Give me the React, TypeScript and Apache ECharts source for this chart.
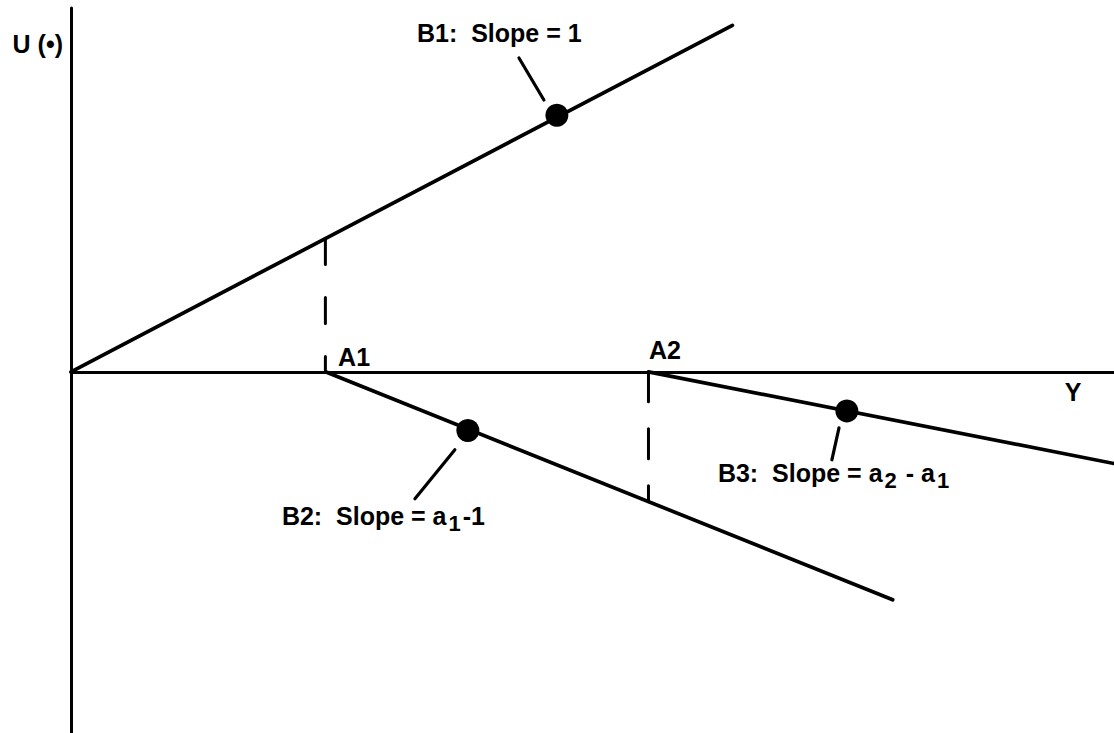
import React, { useEffect, useRef } from "react";
import * as echarts from "echarts";

// Schematic: utility U(·) against income Y, piecewise linear with kinks at A1, A2.
const X_RANGE = [0, 41];
const Y_RANGE = [-27.1, 27.3];

const A1 = 10;
const A2 = 22.7;

const lineB1: [number, number][] = [[0, 0], [26, 26]];
const lineB2: [number, number][] = [[A1, 0], [32.3, -17.1]];
const lineB3: [number, number][] = [[A2, 0], [41, -6.88]];

const dashA1: [number, number][] = [[A1, 10], [A1, 0]];
const dashA2: [number, number][] = [[A2, 0], [A2, -9.74]];

const dots: [number, number][] = [[19.1, 19.25], [15.6, -4.4], [30.5, -2.93]];

const leaderB1: [number, number][] = [[17.61, 23.55], [18.59, 20.4]];
const leaderB2: [number, number][] = [[15.09, -5.85], [13.52, -9.53]];
const leaderB3: [number, number][] = [[30.19, -4.2], [29.91, -6.6]];

const labelTexts = [
  "{t|B1:  Slope = 1}",
  "{t|A1}",
  "{t|A2}",
  "{t|B2:  Slope = a}{s|1}{t|-1}",
  "{t|B3:  Slope = a}{s|2}{t| - a}{s|1}",
];
const labelPos: [number, number][] = [
  [13.6, 25.4],
  [10.5, 1.13],
  [22.72, 1.65],
  [8.29, -10.8],
  [25.43, -7.58],
];

const Y_AXIS_NAME = "U (•)";
const X_AXIS_NAME = "Y";

const FONT = '"Liberation Sans", Arial, Helvetica, sans-serif';
const INK = "#000";

export default function App() {
  const ref = useRef<HTMLDivElement>(null);
  useEffect(() => {
    if (!ref.current) return;
    const chart = echarts.init(ref.current, null, { renderer: "svg" });
    const solid = (data: [number, number][], width = 3.7) => ({
      type: "line",
      data,
      symbol: "none",
      silent: true,
      clip: false,
      lineStyle: { color: INK, width, cap: "round", opacity: 1 },
    });
    const dashed = (data: [number, number][], dash: number[]) => ({
      type: "line",
      data,
      symbol: "none",
      silent: true,
      clip: false,
      lineStyle: { color: INK, width: 3, type: dash, cap: "round", opacity: 1 },
    });
    chart.setOption({
      animation: false,
      backgroundColor: "#fff",
      textStyle: { fontFamily: FONT },
      grid: { left: 71, right: 0, top: 8, bottom: 0 },
      xAxis: {
        type: "value",
        min: X_RANGE[0],
        max: X_RANGE[1],
        axisLine: { show: true, onZero: true, lineStyle: { color: INK, width: 3 } },
        axisTick: { show: false },
        axisLabel: { show: false },
        splitLine: { show: false },
        name: X_AXIS_NAME,
        nameLocation: "end",
        nameGap: -41,
        nameTextStyle: {
          color: INK,
          fontSize: 25,
          fontWeight: "bold",
          fontFamily: FONT,
          align: "center",
          verticalAlign: "top",
          padding: [8, 0, 0, 0],
        },
      },
      yAxis: {
        type: "value",
        min: Y_RANGE[0],
        max: Y_RANGE[1],
        axisLine: { show: true, onZero: false, lineStyle: { color: INK, width: 3 } },
        axisTick: { show: false },
        axisLabel: { show: false },
        splitLine: { show: false },
        name: Y_AXIS_NAME,
        nameLocation: "end",
        nameGap: -36,
        nameTextStyle: {
          color: INK,
          fontSize: 25,
          fontWeight: "bold",
          fontFamily: FONT,
          align: "right",
          verticalAlign: "middle",
          padding: [0, 8, 0, 0],
        },
      },
      series: [
        solid(lineB1),
        solid(lineB2),
        solid(lineB3),
        dashed(dashA1, [26, 33]),
        dashed(dashA2, [30, 27]),
        solid(leaderB1, 3.2),
        solid(leaderB2, 3.2),
        solid(leaderB3, 3.2),
        {
          type: "scatter",
          data: dots,
          symbol: "circle",
          symbolSize: 23,
          silent: true,
          itemStyle: { color: INK, opacity: 1 },
        },
        {
          type: "scatter",
          data: labelPos.map((p, i) => ({ value: p, label: { formatter: labelTexts[i] } })),
          symbolSize: 0,
          silent: true,
          clip: false,
          itemStyle: { color: INK, opacity: 1 },
          label: {
            show: true,
            position: "right",
            distance: 0,
            color: INK,
            opacity: 1,
            rich: {
              t: {
                fontSize: 25,
                fontWeight: "bold",
                fontFamily: FONT,
                color: INK,
                lineHeight: 30,
              },
              s: {
                fontSize: 22,
                fontWeight: "bold",
                fontFamily: FONT,
                color: INK,
                lineHeight: 30,
                padding: [15, 2, 0, 2],
              },
            },
          },
        },
      ],
    });
    return () => chart.dispose();
  }, []);
  return (
    <div
      ref={ref}
      style={{ position: "absolute", left: 0, top: 0, width: 1114, height: 733 }}
    />
  );
}
